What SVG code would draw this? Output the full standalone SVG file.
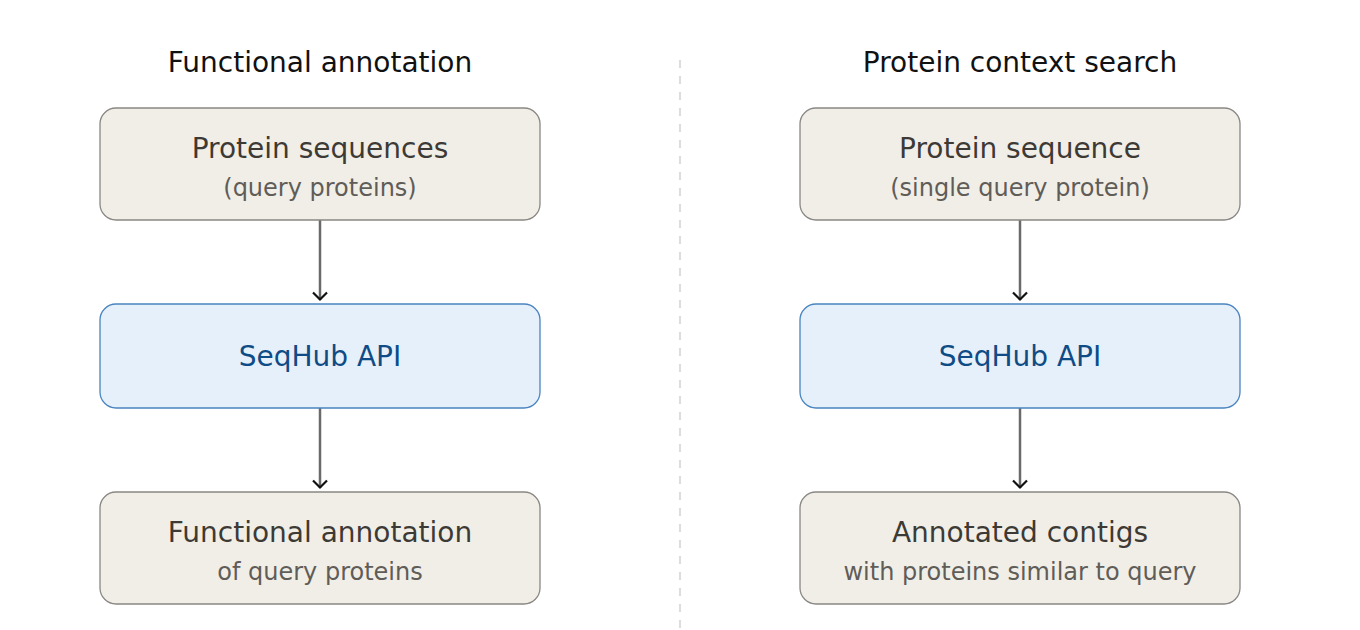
<svg xmlns="http://www.w3.org/2000/svg" width="1360" height="630" viewBox="0 0 1360 630">
<defs>
<style>
text{font-family:"DejaVu Sans","Liberation Sans",sans-serif;text-anchor:middle}
.title{font-size:28px;fill:#111111}
.main{font-size:28px;fill:#3d3a36}
.sub{font-size:24px;fill:#605c58}
.api{font-size:28px;fill:#0f4c86}
.box{fill:#f1eee7;stroke:#8a8884;stroke-width:1.3}
.apibox{fill:#e6f0fa;stroke:#4a84c0;stroke-width:1.3}
.edge{stroke:#6a6a6a;stroke-width:2.5;fill:none}
</style>
<marker id="arr" viewBox="0 0 12 16" refX="9" refY="8" markerWidth="12" markerHeight="16" markerUnits="userSpaceOnUse" orient="auto">
<path d="M1.5,1 L8.5,8 L1.5,15" fill="none" stroke="#111111" stroke-width="2.2"/>
</marker>
</defs>
<rect width="1360" height="630" fill="#ffffff"/>
<line x1="680" y1="60" x2="680" y2="630" stroke="#dcdcdc" stroke-width="2" stroke-dasharray="8,8"/>
<text class="title" x="320" y="72">Functional annotation</text>
<text class="title" x="1020" y="72">Protein context search</text>
<g id="connectors">
<line class="edge" x1="320" y1="220" x2="320" y2="300" marker-end="url(#arr)"/>
<line class="edge" x1="320" y1="408" x2="320" y2="488" marker-end="url(#arr)"/>
<line class="edge" x1="1020" y1="220" x2="1020" y2="300" marker-end="url(#arr)"/>
<line class="edge" x1="1020" y1="408" x2="1020" y2="488" marker-end="url(#arr)"/>
</g>
<g id="left-input">
<rect class="box" x="100" y="108" width="440" height="112" rx="16"/>
<text class="main" x="320" y="158">Protein sequences</text>
<text class="sub" x="320" y="196">(query proteins)</text>
</g>
<g id="left-api">
<rect class="apibox" x="100" y="304" width="440" height="104" rx="16"/>
<text class="api" x="320" y="366">SeqHub API</text>
</g>
<g id="left-output">
<rect class="box" x="100" y="492" width="440" height="112" rx="16"/>
<text class="main" x="320" y="542">Functional annotation</text>
<text class="sub" x="320" y="580">of query proteins</text>
</g>
<g id="right-input">
<rect class="box" x="800" y="108" width="440" height="112" rx="16"/>
<text class="main" x="1020" y="158">Protein sequence</text>
<text class="sub" x="1020" y="196">(single query protein)</text>
</g>
<g id="right-api">
<rect class="apibox" x="800" y="304" width="440" height="104" rx="16"/>
<text class="api" x="1020" y="366">SeqHub API</text>
</g>
<g id="right-output">
<rect class="box" x="800" y="492" width="440" height="112" rx="16"/>
<text class="main" x="1020" y="542">Annotated contigs</text>
<text class="sub" x="1020" y="580">with proteins similar to query</text>
</g>
</svg>
